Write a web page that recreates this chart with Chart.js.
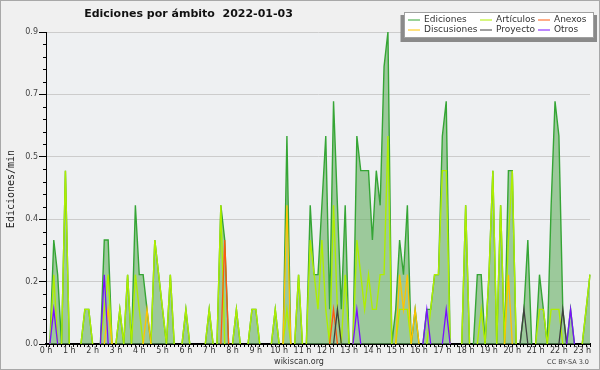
<!DOCTYPE html>
<html><head><meta charset="utf-8">
<script src="https://cdn.jsdelivr.net/npm/chart.js@4.4.1/dist/chart.umd.min.js"></script>
<style>html,body{margin:0;padding:0;background:#f0f0f0;}canvas{display:block}</style>
</head><body>
<canvas id="c" width="600" height="370"></canvas>
<script>
// ---- data ----
const chartTitle = "Ediciones por ámbito  2022-01-03";
const yTitle = "Ediciones/min";
const hourLabels = ["0 h","1 h","2 h","3 h","4 h","5 h","6 h","7 h","8 h","9 h","10 h","11 h",
  "12 h","13 h","14 h","15 h","16 h","17 h","18 h","19 h","20 h","21 h","22 h","23 h"];
// 10-minute slots 0:00 .. 23:20
const slots = [];
for (let h = 0; h < 24; h++) for (let m = 0; m < 60; m += 10) if (slots.length < 141) slots.push(h + ":" + (m < 10 ? "0" : "") + m);

const ediciones = [
0,0,0.3,0.2,0,0.5,0,0,0,0,
0.1,0.1,0,0,0,0.3,0.3,0,0,0.1,
0,0.2,0,0.4,0.2,0.2,0.1,0,0.3,0.2,
0.1,0,0.2,0,0,0,0.1,0,0,0,
0,0,0.1,0,0,0.4,0.3,0,0,0.1,
0,0,0,0.1,0.1,0,0,0,0,0.1,
0,0,0.6,0,0,0.2,0,0,0.4,0.2,
0.2,0.4,0.6,0.1,0.7,0.4,0.1,0.4,0,0,
0.6,0.5,0.5,0.5,0.3,0.5,0.4,0.8,0.9,0,
0.1,0.3,0.2,0.4,0,0.1,0,0,0.1,0.1,
0.2,0.2,0.6,0.7,0,0,0,0,0.4,0,
0,0.2,0.2,0,0.2,0.5,0,0.4,0,0.5,
0.5,0,0,0.1,0.3,0,0,0.2,0.1,0,
0.4,0.7,0.6,0.1,0,0.1,0,0,0,0.1,
0.2];
const articulos = [
0,0,0.2,0,0,0.5,0,0,0,0,
0.1,0.1,0,0,0,0.1,0.2,0,0,0.1,
0,0.2,0,0.2,0.1,0,0,0,0.3,0.2,
0.1,0,0.2,0,0,0,0.1,0,0,0,
0,0,0.1,0,0,0.4,0,0,0,0.1,
0,0,0,0.1,0.1,0,0,0,0,0.1,
0,0,0.1,0,0,0.2,0,0,0.3,0.2,
0.1,0.3,0.1,0,0.4,0.1,0,0.2,0,0,
0.3,0.2,0.1,0.2,0.1,0.1,0.2,0.2,0.6,0,
0,0.1,0.1,0.1,0,0,0,0,0,0.1,
0.2,0.2,0.5,0.5,0,0,0,0,0.4,0,
0,0,0.1,0,0.2,0.5,0,0.4,0,0.3,
0.5,0,0,0,0,0,0,0.1,0.1,0,
0.1,0.1,0.1,0,0,0,0,0,0,0.1,
0.2];
const anexos = [
0,0,0,0,0,0,0,0,0,0,
0,0,0,0,0,0,0,0,0,0,
0,0,0,0,0,0,0,0,0,0,
0,0,0,0,0,0,0,0,0,0,
0,0,0,0,0,0,0.3,0,0,0,
0,0,0,0,0,0,0,0,0,0,
0,0,0,0,0,0,0,0,0,0,
0,0,0,0,0.1,0,0,0,0,0,
0,0,0,0,0,0,0,0,0,0,
0,0,0,0,0,0,0,0,0,0,
0,0,0,0,0,0,0,0,0,0,
0,0,0,0,0,0,0,0,0,0,
0,0,0,0,0,0,0,0,0,0,
0,0,0,0,0,0,0,0,0,0,
0];
const discusiones = [
0,0,0,0,0,0,0,0,0,0,
0,0,0,0,0,0,0.1,0,0,0,
0,0,0,0,0,0,0.1,0,0,0,
0,0,0,0,0,0,0,0,0,0,
0,0,0,0,0,0,0,0,0,0,
0,0,0,0,0,0,0,0,0,0,
0,0,0.4,0,0,0,0,0,0,0,
0,0,0,0,0,0,0,0,0,0,
0,0,0,0,0,0,0,0,0,0,
0,0.2,0.1,0.2,0,0.1,0,0,0,0,
0,0,0,0,0,0,0,0,0,0,
0,0,0,0,0,0,0,0,0,0.2,
0,0,0,0,0,0,0,0,0,0,
0,0,0,0,0,0,0,0,0,0,
0];
const proyecto = [
0,0,0,0,0,0,0,0,0,0,
0,0,0,0,0,0,0,0,0,0,
0,0,0,0,0,0,0,0,0,0,
0,0,0,0,0,0,0,0,0,0,
0,0,0,0,0,0,0,0,0,0,
0,0,0,0,0,0,0,0,0,0,
0,0,0,0,0,0,0,0,0,0,
0,0,0,0,0,0.1,0,0,0,0,
0,0,0,0,0,0,0,0,0,0,
0,0,0,0,0,0,0,0,0,0,
0,0,0,0,0,0,0,0,0,0,
0,0,0,0,0,0,0,0,0,0,
0,0,0,0.1,0,0,0,0,0,0,
0,0,0,0.1,0,0,0,0,0,0,
0];
const otros = [
0,0,0.1,0,0,0,0,0,0,0,
0,0,0,0,0,0.2,0,0,0,0,
0,0,0,0,0,0,0,0,0,0,
0,0,0,0,0,0,0,0,0,0,
0,0,0,0,0,0,0,0,0,0,
0,0,0,0,0,0,0,0,0,0,
0,0,0,0,0,0,0,0,0,0,
0,0,0,0,0,0,0,0,0,0,
0.1,0,0,0,0,0,0,0,0,0,
0,0,0,0,0,0,0,0,0.1,0,
0,0,0,0.1,0,0,0,0,0,0,
0,0,0,0,0,0,0,0,0,0,
0,0,0,0,0,0,0,0,0,0,
0,0,0,0,0,0.1,0,0,0,0,
0];
const seriesNames = ["Ediciones","Artículos","Anexos","Discusiones","Proyecto","Otros"];
const seriesColors = ["#35a535","#aeee00","#ff5a10","#ffc400","#404040","#7a10ff"];
const seriesData = [ediciones, articulos, anexos, discusiones, proyecto, otros];

// ---- chart ----
const hideZero = (col) => (ctx) => (ctx.p0.parsed.y === 0 && ctx.p1.parsed.y === 0) ? 'rgba(0,0,0,0)' : col;
const datasets = seriesNames.map((name, k) => ({
  label: name,
  data: seriesData[k],
  borderColor: seriesColors[k],
  borderWidth: k <= 1 ? 1.4 : 1.3,
  pointRadius: 0,
  tension: 0,
  fill: k === 0 ? 'origin' : false,
  backgroundColor: k === 0 ? 'rgba(105,177,102,0.62)' : seriesColors[k],
  order: seriesNames.length - k,
  segment: { borderColor: hideZero(seriesColors[k]) }
}));

const decor = {
  id: 'decor',
  beforeDraw(chart) {
    const { ctx, chartArea: a } = chart;
    ctx.save();
    ctx.fillStyle = '#f0f0f0';
    ctx.fillRect(0, 0, chart.width, chart.height);
    ctx.strokeStyle = '#a8a8a8';
    ctx.lineWidth = 1;
    ctx.strokeRect(0.5, 0.5, chart.width - 1, chart.height - 1);
    ctx.fillStyle = '#eef0f2';
    ctx.fillRect(a.left, a.top, a.right - a.left, a.bottom - a.top);
    ctx.restore();
  },
  afterDraw(chart) {
    const { ctx, chartArea: a } = chart;
    const ys = chart.scales.y;
    ctx.save();
    // minor y ticks
    ctx.strokeStyle = '#000';
    ctx.lineWidth = 1;
    for (let k = 1; k < 25; k++) {
      if (k % 5 === 0) continue;
      const py = Math.round(ys.getPixelForValue(k * 0.036)) + 0.5;
      ctx.beginPath(); ctx.moveTo(a.left - 3, py); ctx.lineTo(a.left, py); ctx.stroke();
    }
    // title
    ctx.fillStyle = '#111';
    ctx.font = 'bold 11px "DejaVu Sans"';
    ctx.textAlign = 'center'; ctx.textBaseline = 'middle';
    ctx.fillText(chartTitle, 188.5, 14);
    // y title
    ctx.save();
    ctx.translate(11, 189);
    ctx.rotate(-Math.PI / 2);
    ctx.font = '10px "DejaVu Sans Mono"';
    ctx.fillStyle = '#222';
    ctx.fillText(yTitle, 0, 0);
    ctx.restore();
    // footer
    ctx.font = '8px "DejaVu Sans"';
    ctx.fillStyle = '#333';
    ctx.textAlign = 'center';
    ctx.fillText('wikiscan.org', 299, 361.5);
    ctx.font = '6.5px "DejaVu Sans"';
    ctx.textAlign = 'right';
    ctx.fillStyle = '#444';
    ctx.fillText('CC BY-SA 3.0', 589, 362.5);
    // legend
    ctx.fillStyle = '#8a8a8a';
    ctx.fillRect(400.5, 15, 196.5, 27);
    ctx.fillStyle = '#fff';
    ctx.fillRect(404, 12, 190, 26);
    ctx.strokeStyle = '#a0a0a0';
    ctx.strokeRect(404.5, 12.5, 189, 25);
    const colX = [408, 480, 538];
    const rowY = [19.5, 29.5];
    ctx.font = '9px "DejaVu Sans"';
    ctx.textAlign = 'left'; ctx.textBaseline = 'middle';
    chart.data.datasets.forEach((ds, k) => {
      const cx = colX[k % 3], cy = rowY[Math.floor(k / 3)];
      ctx.strokeStyle = ds.borderColor;
      ctx.lineWidth = 1;
      ctx.beginPath(); ctx.moveTo(cx, cy + 0.5); ctx.lineTo(cx + 12, cy + 0.5); ctx.stroke();
      ctx.fillStyle = '#333';
      ctx.fillText(ds.label, cx + 16, cy);
    });
    ctx.restore();
  }
};

new Chart(document.getElementById('c'), {
  type: 'line',
  data: { labels: slots, datasets },
  options: {
    responsive: false, animation: false, devicePixelRatio: 1,
    layout: { padding: { left: 0, right: 10, top: 32, bottom: 0 } },
    plugins: { legend: { display: false }, tooltip: { enabled: false }, title: { display: false } },
    scales: {
      x: {
        type: 'category', offset: false,
        afterFit: s => { s.height = 26; },
        grid: { display: true, drawOnChartArea: false, drawTicks: true, tickLength: 3, tickColor: '#000', tickWidth: 1 },
        border: { display: true, color: '#000', width: 2 },
        ticks: {
          autoSkip: false, maxRotation: 0, minRotation: 0, padding: 0,
          font: { family: 'DejaVu Sans', size: 8, lineHeight: 1 }, color: '#333',
          callback: (v, i) => (i % 6 === 0 ? hourLabels[i / 6] : '')
        }
      },
      y: {
        min: 0, max: 0.9,
        afterFit: s => { s.width = 46; },
        grid: { color: '#cccccc', tickColor: '#000', tickLength: 7, lineWidth: 1 },
        border: { display: true, color: '#000', width: 1 },
        ticks: {
          stepSize: 0.18, padding: 1,
          font: { family: 'DejaVu Sans', size: 8 }, color: '#444',
          callback: v => Number(v).toFixed(1)
        }
      }
    }
  },
  plugins: [decor]
});
</script>
</body></html>
